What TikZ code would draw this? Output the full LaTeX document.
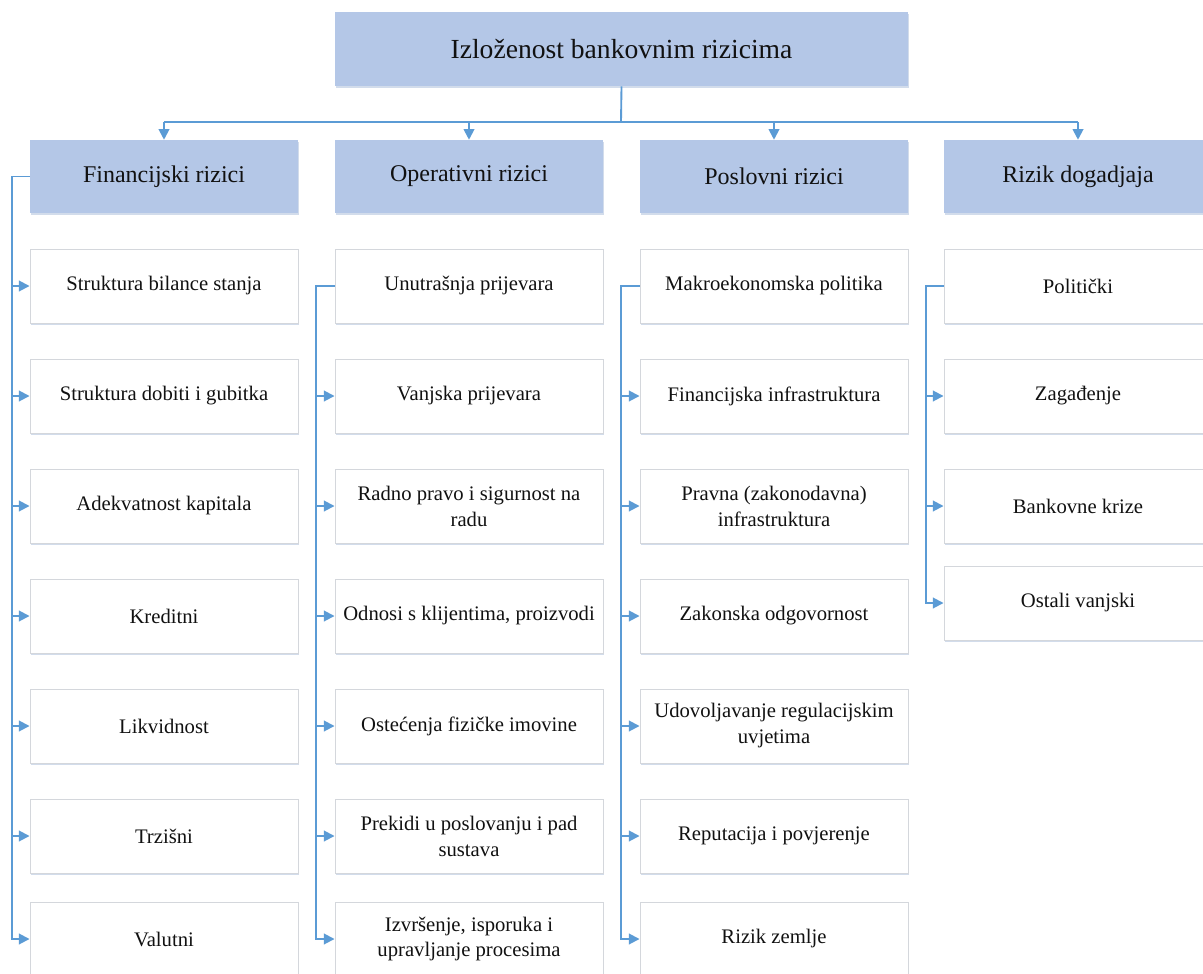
\documentclass[tikz,border=0pt]{standalone}
\usepackage{fontspec}
\setmainfont{Liberation Serif}
\newfontfamily\tnr{Liberation Serif}
\usetikzlibrary{arrows.meta,shadows}
\definecolor{hdrfill}{HTML}{B4C7E7}
\definecolor{lnblue}{HTML}{5B9BD5}
\definecolor{bxline}{HTML}{D4D7DC}
\definecolor{shdcol}{HTML}{9DB3D3}
\definecolor{txt}{HTML}{111111}
\tikzset{
  shd/.style={drop shadow={shadow xshift=0.5pt, shadow yshift=-1.8pt, fill=shdcol, opacity=0.45}},
  titlebox/.style={fill=hdrfill, draw=none, minimum width=429.75pt, minimum height=55.5pt, inner sep=0pt,
    text=txt, font=\tnr\fontsize{20.7}{24}\selectfont, shd},
  hdrbox/.style={fill=hdrfill, draw=none, minimum width=201pt, minimum height=54.75pt, inner sep=0pt,
    text=txt, font=\tnr\fontsize{18}{22}\selectfont, shd},
  itembox/.style={fill=white, draw=bxline, line width=0.7pt, minimum width=201pt, minimum height=55.5pt, inner sep=0pt,
    text=txt, align=center, font=\tnr\fontsize{15.5}{19.5}\selectfont, shd},
  lnk/.style={draw=lnblue, line width=1.4pt},
  arr/.style={lnk, -{Triangle[length=8pt,width=8pt]}},
}
\begin{document}
\begin{tikzpicture}[x=0.75pt, y=-0.75pt]
\useasboundingbox (0,0) rectangle (1203,974);
\clip (0,0) rectangle (1203,974);
\fill[white] (0,0) rectangle (1203,974);

% title
\node[titlebox] (t) at (621.5,49) {Izloženost bankovnim rizicima};

% headers
\node[hdrbox] (h1) at (164,176.5) {Financijski rizici};
\node[hdrbox] (h2) at (469,176.5) {Operativni rizici};
\node[hdrbox] (h3) at (774,176.5) {Poslovni rizici};
\node[hdrbox] (h4) at (1078,176.5) {Rizik dogadjaja};

% Financijski
\node[itembox] (f1) at (164,286) {Struktura bilance stanja};
\node[itembox] (f2) at (164,396) {Struktura dobiti i gubitka};
\node[itembox] (f3) at (164,506) {Adekvatnost kapitala};
\node[itembox] (f4) at (164,616) {Kreditni};
\node[itembox] (f5) at (164,726) {Likvidnost};
\node[itembox] (f6) at (164,836) {Trzišni};
\node[itembox] (f7) at (164,939) {Valutni};

% Operativni
\node[itembox] (o1) at (469,286) {Unutrašnja prijevara};
\node[itembox] (o2) at (469,396) {Vanjska prijevara};
\node[itembox] (o3) at (469,506) {Radno pravo i sigurnost na\\radu};
\node[itembox] (o4) at (469,616) {Odnosi s klijentima, proizvodi};
\node[itembox] (o5) at (469,726) {Ostećenja fizičke imovine};
\node[itembox] (o6) at (469,836) {Prekidi u poslovanju i pad\\sustava};
\node[itembox] (o7) at (469,939) {Izvršenje, isporuka i\\upravljanje procesima};

% Poslovni
\node[itembox] (p1) at (774,286) {Makroekonomska politika};
\node[itembox] (p2) at (774,396) {Financijska infrastruktura};
\node[itembox] (p3) at (774,506) {Pravna (zakonodavna)\\infrastruktura};
\node[itembox] (p4) at (774,616) {Zakonska odgovornost};
\node[itembox] (p5) at (774,726) {Udovoljavanje regulacijskim\\uvjetima};
\node[itembox] (p6) at (774,836) {Reputacija i povjerenje};
\node[itembox] (p7) at (774,939) {Rizik zemlje};

% Rizik dogadjaja
\node[itembox] (r1) at (1078,286) {Politički};
\node[itembox] (r2) at (1078,396) {Zagađenje};
\node[itembox] (r3) at (1078,506) {Bankovne krize};
\node[itembox] (r4) at (1078,603) {Ostali vanjski};

% top connectors
\coordinate (bus) at (621,122);
\draw[lnk] (t.south) -- (bus);
\draw[lnk] (h1.north |- bus) -- (h4.north |- bus);
\foreach \h in {h1,h2,h3,h4} \draw[arr] (\h.north |- bus) -- (\h.north);

% column coordinates
\coordinate (fx) at (12,0);
\coordinate (ox) at (316,0);
\coordinate (px) at (621,0);
\coordinate (rx) at (926,0);

% Financijski column
\draw[arr] (h1.west) -- (h1.west -| fx) -- (f7.west -| fx) -- (f7.west);
\foreach \i in {1,...,6} \draw[arr] (f\i.west -| fx) -- (f\i.west);

% Operativni column
\draw[arr] (o1.west) -- (o1.west -| ox) -- (o7.west -| ox) -- (o7.west);
\foreach \i in {2,...,6} \draw[arr] (o\i.west -| ox) -- (o\i.west);

% Poslovni column
\draw[arr] (p1.west) -- (p1.west -| px) -- (p7.west -| px) -- (p7.west);
\foreach \i in {2,...,6} \draw[arr] (p\i.west -| px) -- (p\i.west);

% Rizik column
\draw[arr] (r1.west) -- (r1.west -| rx) -- (r4.west -| rx) -- (r4.west);
\foreach \i in {2,3} \draw[arr] (r\i.west -| rx) -- (r\i.west);
\end{tikzpicture}
\end{document}
